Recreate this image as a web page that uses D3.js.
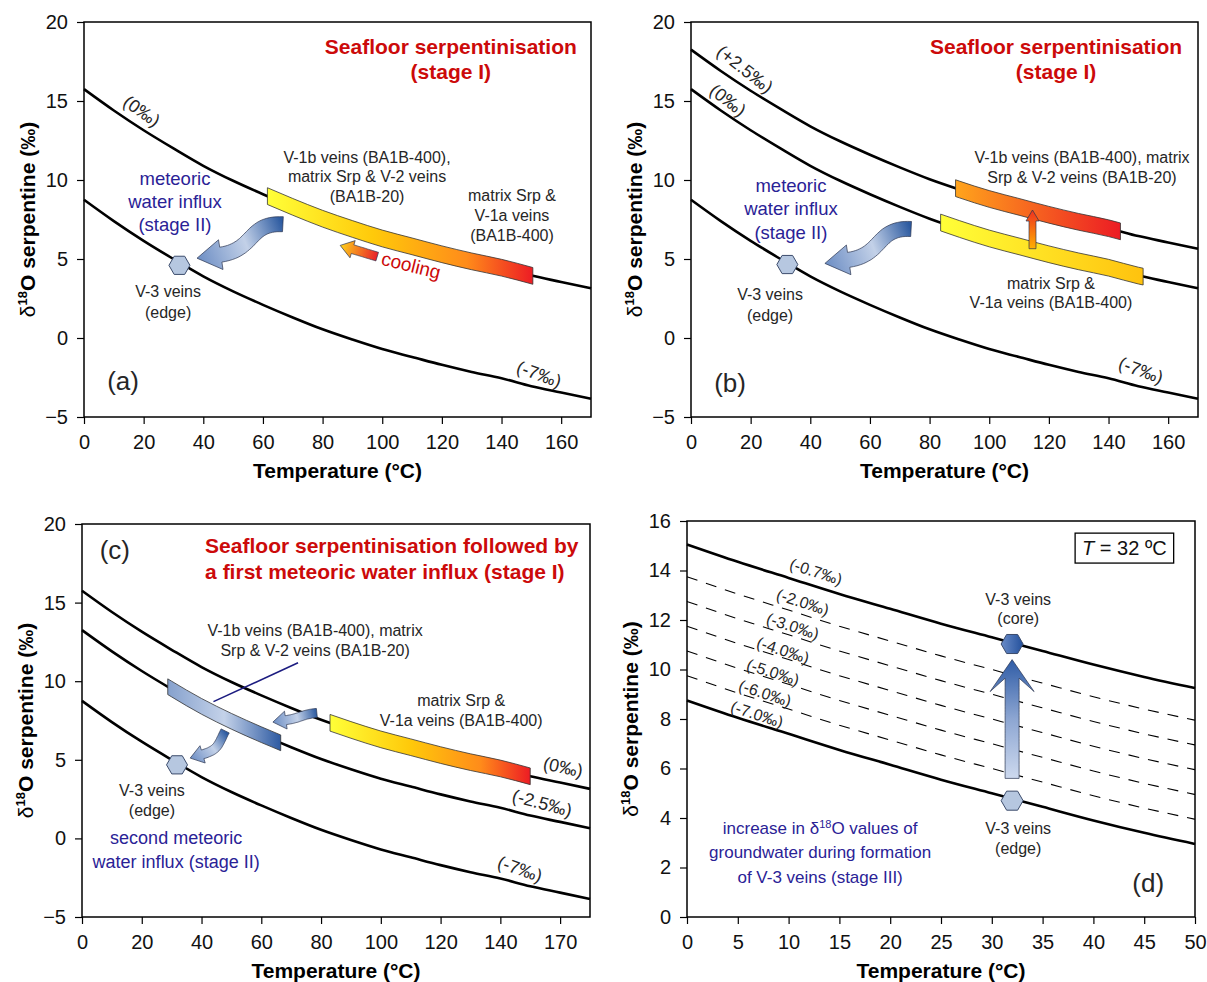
<!DOCTYPE html>
<html>
<head>
<meta charset="utf-8">
<script src="https://cdn.jsdelivr.net/npm/d3@7"></script>
<style>
body { margin: 0; background: #fff; }
svg text { font-family: "Liberation Sans", Arial, sans-serif; }
</style>
</head>
<body>
<svg id="fig" width="1207" height="982"></svg>
<script>
// temperature (°C) and serpentine d18O curves for panels a-c (water value in name)
var tempsHot = [0,10,20,30,40,50,60,70,80,90,100,110,120,130,140,150,160,170];
var serpW0   = [15.75,14.4,13.15,12.0,10.9,9.95,9.1,8.3,7.55,6.9,6.3,5.8,5.3,4.85,4.45,3.95,3.55,3.15];
var serpWm7  = [8.75,7.4,6.15,5.0,3.9,2.95,2.1,1.3,0.55,-0.1,-0.7,-1.2,-1.7,-2.15,-2.55,-3.05,-3.45,-3.85];
var serpWp25 = [18.25,16.9,15.65,14.5,13.4,12.45,11.6,10.8,10.05,9.4,8.8,8.3,7.8,7.35,6.95,6.45,6.05,5.65];
var serpWm25 = [13.25,11.9,10.65,9.5,8.4,7.45,6.6,5.8,5.05,4.4,3.8,3.3,2.8,2.35,1.95,1.45,1.05,0.65];

// panel d, low temperature
var tempsCold = [0,5,10,15,20,25,30,35,40,45,50];
var dW07 = [15.05,14.35,13.7,13.05,12.45,11.85,11.3,10.75,10.2,9.7,9.25];
var dW20 = [13.75,13.05,12.4,11.75,11.15,10.55,10.0,9.45,8.9,8.4,7.95];
var dW30 = [12.75,12.05,11.4,10.75,10.15,9.55,9.0,8.45,7.9,7.4,6.95];
var dW40 = [11.75,11.05,10.4,9.75,9.15,8.55,8.0,7.45,6.9,6.4,5.95];
var dW50 = [10.75,10.05,9.4,8.75,8.15,7.55,7.0,6.45,5.9,5.4,4.95];
var dW60 = [9.75,9.05,8.4,7.75,7.15,6.55,6.0,5.45,4.9,4.4,3.95];
var dW70 = [8.75,8.05,7.4,6.75,6.15,5.55,5.0,4.45,3.9,3.4,2.95];

// ticks
var ticksT = [0,20,40,60,80,100,120,140,160];
var ticksTlabC = ["0","20","40","60","80","100","120","140","170"];
var ticksSerp = [-5,0,5,10,15,20];
var ticksTcold = [0,5,10,15,20,25,30,35,40,45,50];
var ticksSerpD = [0,2,4,6,8,10,12,14,16];

var PM = "\u2030";
var red = "#cc0a0a", navy = "#2a2296", grey = "#262626";

var svg = d3.select("#fig");
var defs = svg.append("defs");

function grad(id, stops, attrs) {
    var lg = defs.append("linearGradient").attr("id", id);
    attrs = attrs || {x1: 0, y1: 0, x2: 1, y2: 0};
    for (var k in attrs) lg.attr(k, attrs[k]);
    stops.forEach(function(s){ lg.append("stop").attr("offset", s[0]).attr("stop-color", s[1]); });
}
grad("gYR", [[0,"#ffff38"],[0.4,"#ffc90a"],[0.75,"#ff8c1a"],[1,"#ed1c24"]]);
grad("gOR", [[0,"#ffa41c"],[1,"#ec1c24"]]);
grad("gYO", [[0,"#ffff38"],[1,"#ffc20e"]]);
grad("gBlue", [[0,"#86a1cd"],[0.5,"#c4d2e9"],[1,"#2d5aa2"]]);
grad("hexDark", [[0,"#6a8cc8"],[1,"#23509c"]]);

function panel(c) {
    var g = svg.append("g");
    var x = d3.scaleLinear().domain(c.xd).range([c.l, c.r]);
    var y = d3.scaleLinear().domain(c.yd).range([c.b, c.t]);
    var ax = g.append("g").attr("transform", "translate(0," + c.b + ")")
        .call(d3.axisBottom(x).tickValues(c.xt).tickSize(7).tickPadding(11)
            .tickFormat(function(d, i){ return c.xl ? c.xl[i] : d; }));
    var ay = g.append("g").attr("transform", "translate(" + c.l + ",0)")
        .call(d3.axisLeft(y).tickValues(c.yt).tickSize(7).tickPadding(9));
    [ax, ay].forEach(function(a){
        a.select(".domain").remove();
        a.selectAll("line").attr("stroke", "#000").attr("stroke-width", 1.2);
        a.selectAll("text").attr("font-size", 20).attr("fill", "#111")
            .attr("font-family", "Liberation Sans, Arial, sans-serif");
    });
    g.append("rect").attr("x", c.l).attr("y", c.t).attr("width", c.r - c.l).attr("height", c.b - c.t)
        .attr("fill", "none").attr("stroke", "#000").attr("stroke-width", 1.5);
    g.append("text").attr("x", (c.l + c.r) / 2).attr("y", c.b + 61)
        .attr("text-anchor", "middle").attr("font-size", 21).attr("font-weight", "bold")
        .text("Temperature (\u00b0C)");
    var yl = g.append("text").attr("transform", "translate(" + (c.l - 56) + "," + ((c.t + c.b) / 2) + ") rotate(-90)")
        .attr("text-anchor", "middle").attr("dy", "0.35em").attr("font-size", 21).attr("font-weight", "bold");
    yl.append("tspan").attr("font-weight", "normal").text("\u03b4");
    yl.append("tspan").attr("font-size", 13).attr("dy", -8).text("18");
    yl.append("tspan").attr("dy", 8).text("O serpentine (" + PM + ")");
    var plot = g.append("g");
    return {g: plot, x: x, y: y};
}

function curve(p, temps, vals, dashed) {
    var line = d3.line().x(function(d){ return p.x(d[0]); }).y(function(d){ return p.y(d[1]); })
        .curve(d3.curveMonotoneX);
    p.g.append("path").datum(d3.zip(temps, vals)).attr("d", line).attr("fill", "none")
        .attr("stroke", "#000").attr("stroke-width", dashed ? 1.1 : 2.6)
        .attr("stroke-dasharray", dashed ? "11,9" : null);
}

function lerp(ts, vs, t) {
    var i = d3.bisectRight(ts, t) - 1;
    i = Math.max(0, Math.min(ts.length - 2, i));
    var f = (t - ts[i]) / (ts[i + 1] - ts[i]);
    return vs[i] + f * (vs[i + 1] - vs[i]);
}

function band(p, temps, vals, t1, t2, half, fill) {
    var pts = [[t1, lerp(temps, vals, t1)]];
    temps.forEach(function(t, i){ if (t > t1 + 0.5 && t < t2 - 0.5) pts.push([t, vals[i]]); });
    pts.push([t2, lerp(temps, vals, t2)]);
    var area = d3.area().x(function(d){ return p.x(d[0]); })
        .y0(function(d){ return p.y(d[1] - half); }).y1(function(d){ return p.y(d[1] + half); })
        .curve(d3.curveMonotoneX);
    p.g.append("path").attr("d", area(pts)).attr("fill", fill)
        .attr("stroke", "#333").attr("stroke-width", 0.8);
}

function nrm(v) { var l = Math.hypot(v[0], v[1]); return [v[0] / l, v[1] / l]; }

var gradN = 0;
function arrow(p, tailD, tipD, o) {
    var tail = [p.x(tailD[0]), p.y(tailD[1])], tip = [p.x(tipD[0]), p.y(tipD[1])];
    var u1 = nrm(o.d1 || [tip[0] - tail[0], tip[1] - tail[1]]);
    var u0 = nrm(o.d0 || u1);
    var base = [tip[0] - u1[0] * o.hl, tip[1] - u1[1] * o.hl];
    var end = o.barb ? [base[0] + u1[0] * o.hl * o.barb, base[1] + u1[1] * o.hl * o.barb] : base;
    var L = Math.hypot(end[0] - tail[0], end[1] - tail[1]), k = L * 0.5;
    var p0 = tail, p1 = [tail[0] + u0[0] * k, tail[1] + u0[1] * k],
        p2 = [end[0] - u1[0] * k, end[1] - u1[1] * k], p3 = end;
    var left = [], right = [], N = 30;
    for (var i = 0; i <= N; i++) {
        var t = i / N, m = 1 - t;
        var pt = [m*m*m*p0[0] + 3*m*m*t*p1[0] + 3*m*t*t*p2[0] + t*t*t*p3[0],
                  m*m*m*p0[1] + 3*m*m*t*p1[1] + 3*m*t*t*p2[1] + t*t*t*p3[1]];
        var dv = [3*m*m*(p1[0]-p0[0]) + 6*m*t*(p2[0]-p1[0]) + 3*t*t*(p3[0]-p2[0]),
                  3*m*m*(p1[1]-p0[1]) + 6*m*t*(p2[1]-p1[1]) + 3*t*t*(p3[1]-p2[1])];
        var n = nrm([-dv[1], dv[0]]);
        left.push([pt[0] + n[0] * o.w / 2, pt[1] + n[1] * o.w / 2]);
        right.push([pt[0] - n[0] * o.w / 2, pt[1] - n[1] * o.w / 2]);
    }
    var nh = [-u1[1], u1[0]];
    var pts = left.concat([[base[0] + nh[0] * o.hw / 2, base[1] + nh[1] * o.hw / 2], tip,
        [base[0] - nh[0] * o.hw / 2, base[1] - nh[1] * o.hw / 2]], right.reverse());
    var id = "ag" + (gradN++);
    grad(id, o.stops, {gradientUnits: "userSpaceOnUse", x1: tail[0], y1: tail[1], x2: tip[0], y2: tip[1]});
    p.g.append("path").attr("d", "M" + pts.map(function(q){ return q[0].toFixed(1) + "," + q[1].toFixed(1); }).join("L") + "Z")
        .attr("fill", "url(#" + id + ")").attr("stroke", "#2b3550").attr("stroke-width", 0.7);
}

function hex(p, t, v, r, fill) {
    var cx = p.x(t), cy = p.y(v);
    var pts = d3.range(6).map(function(i){
        var a = i * Math.PI / 3;
        return [cx + r * Math.cos(a), cy + r * Math.sin(a)];
    });
    p.g.append("polygon").attr("points", pts.map(function(q){ return q.join(","); }).join(" "))
        .attr("fill", fill).attr("stroke", "#3b4b6b").attr("stroke-width", 1);
}

function label(p, t, v, lines, o) {
    o = o || {};
    var el = p.g.append("text")
        .attr("transform", "translate(" + p.x(t) + "," + p.y(v) + ")" + (o.rot ? " rotate(" + o.rot + ")" : ""))
        .attr("text-anchor", o.anchor || "middle").attr("font-size", o.size || 16)
        .attr("fill", o.color || grey).attr("font-weight", o.weight || "normal");
    lines.forEach(function(s, i){
        el.append("tspan").attr("x", 0).attr("y", i * (o.lh || 20)).attr("dy", "0.35em").text(s);
    });
    return el;
}

var blueStops = [[0,"#2c5aa0"],[0.45,"#c3d1e8"],[1,"#6d8ec4"]];
var hexLight = "#b6c7e0";

// ---------- panel (a)
var pa = panel({l: 84, r: 591, t: 22, b: 417, xd: [0,170], yd: [-5,20], xt: ticksT, yt: ticksSerp});
curve(pa, tempsHot, serpW0);
curve(pa, tempsHot, serpWm7);
band(pa, tempsHot, serpW0, 61.5, 150.5, 0.53, "url(#gYR)");
arrow(pa, [66.7, 7.2], [37.9, 5.05], {w: 15, hw: 30, hl: 24, d0: [-1, -0.05], d1: [-1, 0.15], stops: blueStops});
arrow(pa, [98.3, 5.15], [85.9, 5.86], {w: 9, hw: 18, hl: 13, stops: [[0,"#e8202a"],[1,"#ffd21a"]]});
hex(pa, 32, 4.6, 10.5, hexLight);
label(pa, 123, 18.47, ["Seafloor serpentinisation", "(stage I)"], {size: 21, weight: "bold", color: red, lh: 25});
label(pa, 19.4, 14.36, ["(0" + PM + ")"], {size: 18, rot: 35});
label(pa, 152.6, -2.29, ["(-7" + PM + ")"], {size: 18, rot: 20});
label(pa, 13.1, -2.73, ["(a)"], {size: 26});
label(pa, 94.9, 11.45, ["V-1b veins (BA1B-400),", "matrix Srp & V-2 veins", "(BA1B-20)"], {lh: 19.5});
label(pa, 143.5, 9.04, ["matrix Srp &", "V-1a veins", "(BA1B-400)"], {lh: 20});
label(pa, 30.5, 10.12, ["meteoric", "water influx", "(stage II)"], {size: 18.5, color: navy, lh: 23});
label(pa, 28.2, 2.96, ["V-3 veins", "(edge)"], {lh: 21});
label(pa, 109.7, 4.6, ["cooling"], {size: 19, color: red, rot: 14});

// ---------- panel (b)
var pb = panel({l: 691, r: 1198, t: 22, b: 417, xd: [0,170], yd: [-5,20], xt: ticksT, yt: ticksSerp});
curve(pb, tempsHot, serpWp25);
curve(pb, tempsHot, serpW0);
curve(pb, tempsHot, serpWm7);
band(pb, tempsHot, serpWp25, 88.7, 144, 0.53, "url(#gOR)");
band(pb, tempsHot, serpW0, 83.7, 151.6, 0.53, "url(#gYO)");
arrow(pb, [114.5, 5.65], [114.5, 8.1], {w: 7, hw: 13, hl: 11, stops: [[0,"#ffb000"],[1,"#ee3020"]]});
arrow(pb, [73.8, 6.9], [44.9, 4.72], {w: 15, hw: 30, hl: 24, d0: [-1, -0.05], d1: [-1, 0.15], stops: blueStops});
hex(pb, 32.3, 4.65, 10.5, hexLight);
label(pb, 122.4, 18.47, ["Seafloor serpentinisation", "(stage I)"], {size: 21, weight: "bold", color: red, lh: 25});
label(pb, 18.1, 17.02, ["(+2.5" + PM + ")"], {size: 18, rot: 38});
label(pb, 12.4, 15.06, ["(0" + PM + ")"], {size: 18, rot: 38});
label(pb, 150.9, -2.04, ["(-7" + PM + ")"], {size: 18, rot: 20});
label(pb, 13.1, -2.86, ["(b)"], {size: 26});
label(pb, 131.1, 11.45, ["V-1b veins (BA1B-400), matrix", "Srp & V-2 veins (BA1B-20)"], {lh: 20});
label(pb, 120.7, 3.47, ["matrix Srp &", "V-1a veins (BA1B-400)"], {lh: 19.5});
label(pb, 33.5, 9.68, ["meteoric", "water influx", "(stage II)"], {size: 18.5, color: navy, lh: 23.5});
label(pb, 26.5, 2.77, ["V-3 veins", "(edge)"], {lh: 21});

// ---------- panel (c)
var pc = panel({l: 82, r: 590, t: 524, b: 917, xd: [0,170], yd: [-5,20], xt: ticksT, xl: ticksTlabC, yt: ticksSerp});
curve(pc, tempsHot, serpW0);
curve(pc, tempsHot, serpWm25);
curve(pc, tempsHot, serpWm7);
band(pc, tempsHot, serpWm25, 28.7, 66.5, 0.5, "url(#gBlue)");
band(pc, tempsHot, serpW0, 83, 150, 0.53, "url(#gYR)");
pc.g.append("line").attr("x1", pc.x(72.3)).attr("y1", pc.y(11.17)).attr("x2", pc.x(44.0)).attr("y2", pc.y(8.7))
    .attr("stroke", "#1c1c80").attr("stroke-width", 1.6);
arrow(pc, [78.6, 7.98], [63.9, 7.4], {w: 9, hw: 18, hl: 13, d0: [-1, 0.1], d1: [-1, 0.15], stops: blueStops});
arrow(pc, [47.9, 6.84], [36.2, 5.11], {w: 9, hw: 18, hl: 13, d0: [-0.5, 1], d1: [-1, 0.3], stops: blueStops});
hex(pc, 31.8, 4.68, 10.5, hexLight);
label(pc, 11, 18.35, ["(c)"], {size: 26});
label(pc, 41.2, 18.6, ["Seafloor serpentinisation followed by", "a first meteoric water influx (stage I)"],
    {size: 21, weight: "bold", color: red, lh: 26, anchor: "start"});
label(pc, 78, 13.26, ["V-1b veins (BA1B-400), matrix", "Srp & V-2 veins (BA1B-20)"], {lh: 20});
label(pc, 126.9, 8.8, ["matrix Srp &", "V-1a veins (BA1B-400)"], {lh: 20});
label(pc, 23.4, 3.08, ["V-3 veins", "(edge)"], {lh: 20});
label(pc, 31.5, 0.03, ["second meteoric", "water influx (stage II)"], {size: 18, color: navy, lh: 24});
label(pc, 161, 4.54, ["(0" + PM + ")"], {size: 18, rot: 12});
label(pc, 154, 2.25, ["(-2.5" + PM + ")"], {size: 18, rot: 15});
label(pc, 146.6, -1.94, ["(-7" + PM + ")"], {size: 18, rot: 19});

// ---------- panel (d)
var pd = panel({l: 687, r: 1195, t: 521, b: 917, xd: [0,50], yd: [0,16], xt: ticksTcold, yt: ticksSerpD});
[dW20, dW30, dW40, dW50, dW60].forEach(function(s){ curve(pd, tempsCold, s, true); });
curve(pd, tempsCold, dW07);
curve(pd, tempsCold, dW70);
arrow(pd, [32, 5.6], [32, 10.4], {w: 14, hw: 44, hl: 32, barb: 0.42,
    stops: [[0,"#cdd9ee"],[0.5,"#8da6d2"],[1,"#2f5ca6"]]});
hex(pd, 32, 11.03, 11, "url(#hexDark)");
hex(pd, 32, 4.7, 11, hexLight);
pd.g.append("rect").attr("x", pd.x(38.2)).attr("y", pd.y(15.51))
    .attr("width", pd.x(47.9) - pd.x(38.2)).attr("height", pd.y(14.3) - pd.y(15.51))
    .attr("fill", "#fff").attr("stroke", "#000").attr("stroke-width", 1.3);
var tbox = pd.g.append("text").attr("x", pd.x(43.05)).attr("y", pd.y(14.9)).attr("dy", "0.35em")
    .attr("text-anchor", "middle").attr("font-size", 20).attr("fill", "#111");
tbox.append("tspan").attr("font-style", "italic").text("T");
tbox.append("tspan").text(" = 32 \u00baC");
var dLabels = ["(-0.7" + PM + ")", "(-2.0" + PM + ")", "(-3.0" + PM + ")", "(-4.0" + PM + ")",
               "(-5.0" + PM + ")", "(-6.0" + PM + ")", "(-7.0" + PM + ")"];
var dLabT = [12.7, 11.4, 10.4, 9.45, 8.46, 7.68, 6.89];
var dLabV = [13.95, 12.72, 11.75, 10.78, 9.89, 9.04, 8.19];
dLabels.forEach(function(s, i){ label(pd, dLabT[i], dLabV[i], [s], {size: 16, rot: 18}); });
label(pd, 32.6, 12.85, ["V-3 veins", "(core)"], {lh: 19.5});
label(pd, 32.6, 3.56, ["V-3 veins", "(edge)"], {lh: 19.5});
label(pd, 45.4, 1.37, ["(d)"], {size: 26});
var inc = pd.g.append("text").attr("transform", "translate(" + pd.x(13.1) + "," + pd.y(3.6) + ")")
    .attr("text-anchor", "middle").attr("font-size", 17).attr("fill", navy);
inc.append("tspan").attr("x", 0).attr("y", 0).attr("dy", "0.35em").text("increase in \u03b4");
inc.append("tspan").attr("font-size", 11).attr("dy", -6).text("18");
inc.append("tspan").attr("dy", 6).text("O values of");
inc.append("tspan").attr("x", 0).attr("y", 24.5).attr("dy", "0.35em").text("groundwater during formation");
inc.append("tspan").attr("x", 0).attr("y", 49).attr("dy", "0.35em").text("of V-3 veins (stage III)");
</script>
</body>
</html>
